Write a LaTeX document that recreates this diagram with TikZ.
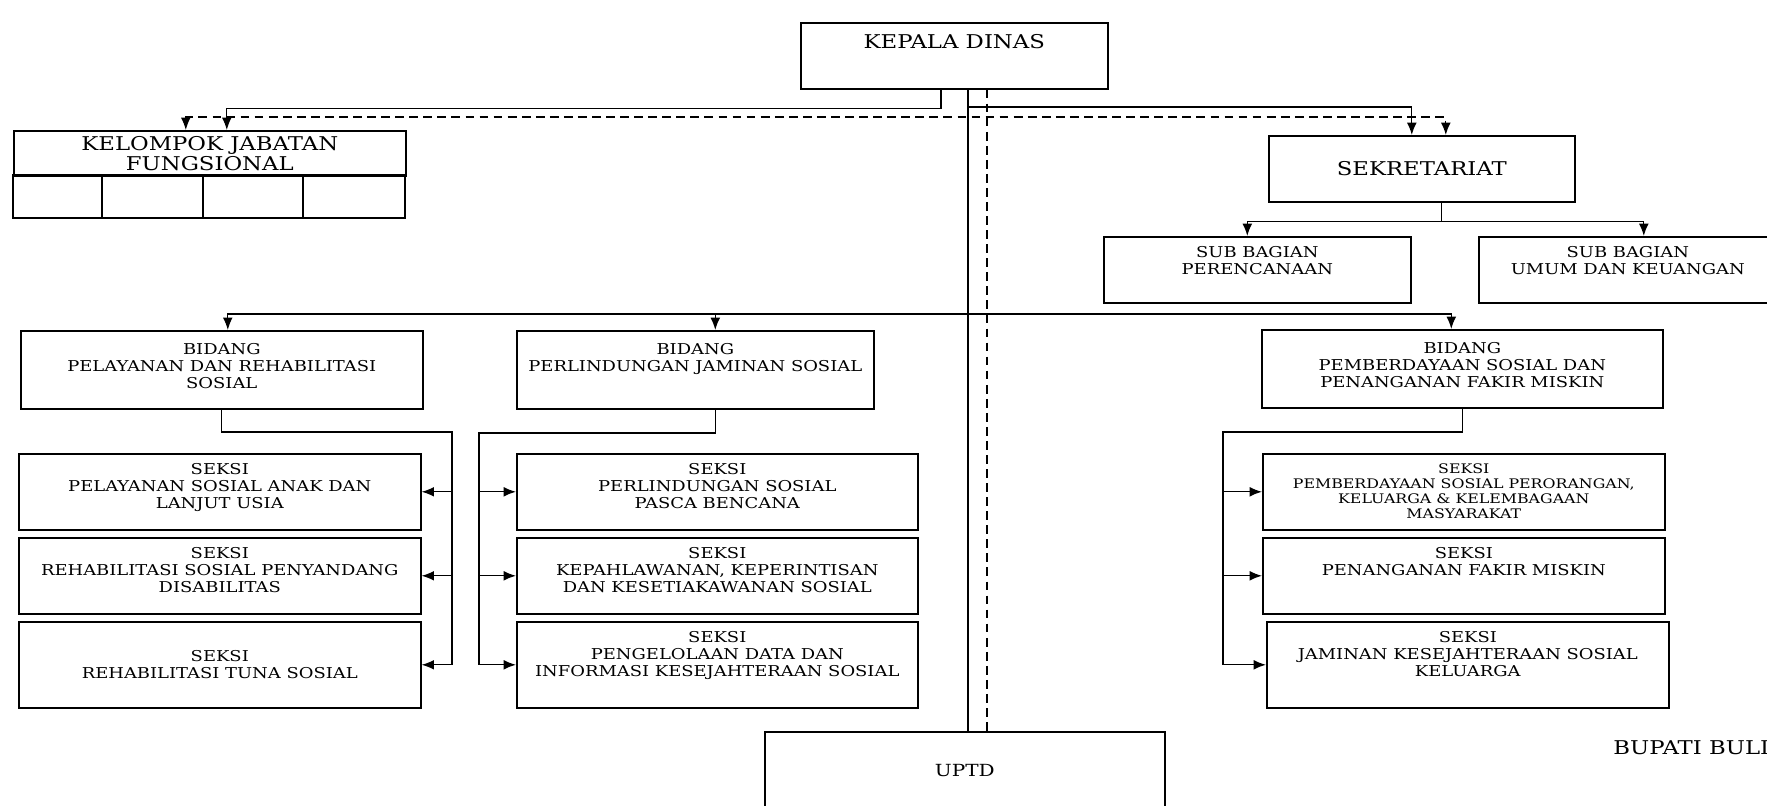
\documentclass[tikz,border=0pt]{standalone}
\usepackage{fontspec}
\setmainfont{DejaVu Serif}[FakeStretch=1.2]
\usetikzlibrary{arrows.meta,positioning,calc}

\tikzset{
  unit/.style 2 args={draw, line width=0.9pt, anchor=north west, inner sep=0pt,
    minimum width=#1*0.02cm, minimum height=#2*0.02cm},
  bigtxt/.style={font=\fontsize{10.8}{11.4}\selectfont},
  smalltxt/.style={font=\fontsize{8.5}{9.6}\selectfont},
  finetxt/.style={font=\fontsize{7.5}{8.6}\selectfont},
  toptext/.style={anchor=north, align=center, inner sep=0pt, yshift=-0.2cm},
  link/.style={line width=0.75pt},
  arr/.style={line width=0.75pt, -{Latex[length=7pt,width=5.5pt]}},
  dashlink/.style={line width=0.75pt, dash pattern=on 5pt off 3pt},
}

\begin{document}
\begin{tikzpicture}[x=0.02cm, y=-0.02cm]

  \useasboundingbox (0,0) rectangle (1767,805);

  % kepala dinas
  \node[unit={307}{66}, label={[toptext,bigtxt,yshift=-0.04cm]north:KEPALA DINAS}] (kadis) at (800,22) {};

  % kelompok jabatan fungsional
  \node[unit={392}{45}, align=center, bigtxt] (kjf) at (13,130) {KELOMPOK JABATAN\\FUNGSIONAL};
  \foreach \a/\b in {13/102,102/203,203/303,303/405}
    \draw[line width=0.9pt] (\a,175) rectangle (\b,218);

  % sekretariat
  \node[unit={306}{66}, bigtxt] (sekr) at (1268,135) {SEKRETARIAT};
  \node[unit={307}{66}, label={[toptext,smalltxt]north:SUB BAGIAN\\PERENCANAAN}] (sbp) at (1103,236) {};
  \node[unit={298}{66}, label={[toptext,smalltxt]north:SUB BAGIAN\\UMUM DAN KEUANGAN}] (sbu) at (1478,236) {};

  % bidang
  \node[unit={402}{78}, label={[toptext,smalltxt,yshift=-0.06cm]north:BIDANG\\PELAYANAN DAN REHABILITASI\\SOSIAL}] (bid1) at (20,330) {};
  \node[unit={357}{78}, label={[toptext,smalltxt,yshift=-0.06cm]north:BIDANG\\PERLINDUNGAN JAMINAN SOSIAL}] (bid2) at (516,330) {};
  \node[unit={401}{78}, label={[toptext,smalltxt,yshift=-0.06cm]north:BIDANG\\PEMBERDAYAAN SOSIAL DAN\\PENANGANAN FAKIR MISKIN}] (bid3) at (1261,329) {};

  % seksi, kiri
  \node[unit={402}{76}, label={[toptext,smalltxt]north:SEKSI\\PELAYANAN SOSIAL ANAK DAN\\LANJUT USIA}] (s11) at (18,453) {};
  \node[unit={402}{76}, label={[toptext,smalltxt]north:SEKSI\\REHABILITASI SOSIAL PENYANDANG\\DISABILITAS}] (s12) at (18,537) {};
  \node[unit={402}{86}, align=center, smalltxt] (s13) at (18,621) {SEKSI\\REHABILITASI TUNA SOSIAL};

  % seksi, tengah
  \node[unit={401}{76}, label={[toptext,smalltxt]north:SEKSI\\PERLINDUNGAN SOSIAL\\PASCA BENCANA}] (s21) at (516,453) {};
  \node[unit={401}{76}, label={[toptext,smalltxt]north:SEKSI\\KEPAHLAWANAN, KEPERINTISAN\\DAN KESETIAKAWANAN SOSIAL}] (s22) at (516,537) {};
  \node[unit={401}{86}, label={[toptext,smalltxt]north:SEKSI\\PENGELOLAAN DATA DAN\\INFORMASI KESEJAHTERAAN SOSIAL}] (s23) at (516,621) {};

  % seksi, kanan
  \node[unit={402}{76}, label={[toptext,finetxt]north:SEKSI\\PEMBERDAYAAN SOSIAL PERORANGAN,\\KELUARGA \& KELEMBAGAAN\\MASYARAKAT}] (s31) at (1262,453) {};
  \node[unit={402}{76}, label={[toptext,smalltxt]north:SEKSI\\PENANGANAN FAKIR MISKIN}] (s32) at (1262,537) {};
  \node[unit={402}{86}, label={[toptext,smalltxt]north:SEKSI\\JAMINAN KESEJAHTERAAN SOSIAL\\KELUARGA}] (s33) at (1266,621) {};

  % uptd
  \node[unit={400}{78}, font=\fontsize{9.5}{11}\selectfont] (uptd) at (764,731) {UPTD};

  \node[bigtxt, anchor=west, inner sep=0pt] (bupati) at (1613,748) {BUPATI BULI};

  % garis komando
  \coordinate (trunk) at ($(kadis.south west)+(168,0)$);
  \coordinate (hub) at (trunk |- 0,107);
  \coordinate (bus) at (trunk |- 0,314);
  \draw[link] (trunk) -- (trunk |- uptd.north);
  \draw[arr] ($(kadis.south west)+(141,0)$) |- ++(0,19) -| ($(kjf.north)+(17,0)$);
  \draw[arr] (hub) -| ($(sekr.north)+(-10,0)$);

  % garis koordinasi
  \coordinate (dtrunk) at ($(kadis.south west)+(187,0)$);
  \coordinate (dhub) at (dtrunk |- 0,117);
  \draw[dashlink] (dtrunk) -- (dtrunk |- uptd.north);
  \draw[dashlink, {Latex[length=7pt,width=5.5pt]}-{Latex[length=7pt,width=5.5pt]}]
    ($(kjf.north)+(-24,0)$) |- (dhub) -| ($(sekr.north)+(24,0)$);

  % sekretariat ke sub bagian
  \draw[link] ($(sekr.south)+(20,0)$) -- ++(0,19) coordinate (sk);
  \draw[arr] (sk) -| ($(sbp.north)+(-10,0)$);
  \draw[arr] (sk) -| ($(sbu.north)+(16,0)$);

  % bidang
  \draw[arr] (bus) -| ($(bid1.north)+(6,0)$);
  \draw[arr] (bus) -| ($(bid2.north)+(20,0)$);
  \draw[arr] (bus) -| ($(bid3.north)+(-11,0)$);

  % bidang ke seksi
  \coordinate (lt) at (452,432);
  \draw[link] (bid1.south) |- (lt) -- (lt |- s13.east);
  \foreach \s in {s11,s12,s13}
    \draw[arr] (lt |- \s.east) -- (\s.east);

  \coordinate (mt) at (479,433);
  \draw[link] ($(bid2.south)+(20,0)$) |- (mt) -- (mt |- s23.west);
  \foreach \s in {s21,s22,s23}
    \draw[arr] (mt |- \s.west) -- (\s.west);

  \coordinate (rt) at (1223,432);
  \draw[link] (bid3.south) |- (rt) -- (rt |- s33.west);
  \foreach \s in {s31,s32,s33}
    \draw[arr] (rt |- \s.west) -- (\s.west);

\end{tikzpicture}
\end{document}
